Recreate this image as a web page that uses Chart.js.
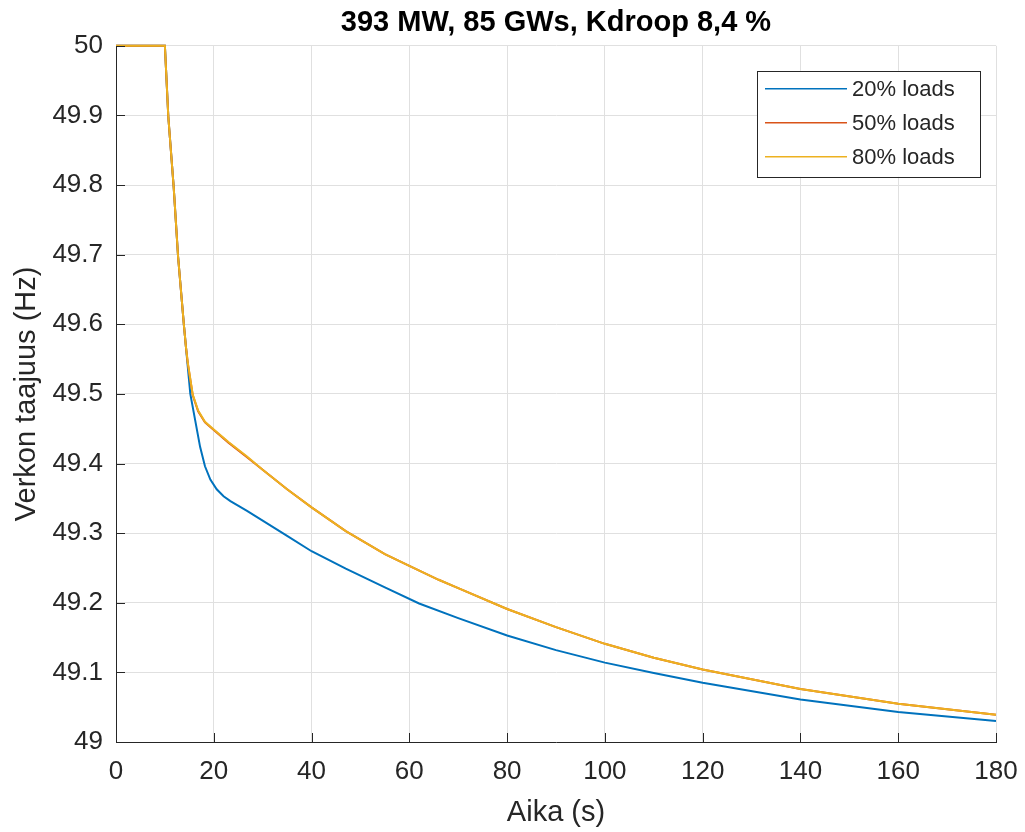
<!DOCTYPE html>
<html>
<head>
<meta charset="utf-8">
<title>393 MW, 85 GWs, Kdroop 8,4 %</title>
<script src="https://cdn.jsdelivr.net/npm/chart.js@4.4.1/dist/chart.umd.min.js"></script>
<style>
  html, body { margin: 0; padding: 0; background: #fff; overflow: hidden; }
  #wrap { width: 1025px; height: 832px; position: relative; }
</style>
</head>
<body>
<div id="wrap"><canvas id="chartFreq"></canvas></div>
<script>
// time axis (s) and grid frequency (Hz)
const time20 = [0, 10, 10.7, 11.8, 12.7, 13.9, 14.3, 15.2, 16.2, 17.2, 18.2, 19.3, 20.6, 22, 23.4, 26.8, 30, 35, 40, 47, 55, 62, 70, 80, 90, 100, 110, 120, 140, 160, 180];
const load20 = [50, 50, 49.898, 49.797, 49.697, 49.598, 49.568, 49.500, 49.462, 49.424, 49.396, 49.377, 49.363, 49.353, 49.346, 49.332, 49.318, 49.296, 49.274, 49.249, 49.222, 49.199, 49.178, 49.153, 49.132, 49.114, 49.099, 49.085, 49.061, 49.043, 49.030];

const time50 = [0, 10, 10.7, 11.8, 12.7, 13.9, 14.3, 14.7, 15.7, 16.8, 18.2, 20, 23, 26.8, 30, 35, 40, 47, 55, 60, 66, 70, 80, 90, 100, 110, 120, 140, 160, 180];
const load50 = [50, 50, 49.898, 49.797, 49.697, 49.598, 49.568, 49.543, 49.498, 49.475, 49.459, 49.448, 49.430, 49.409, 49.391, 49.363, 49.337, 49.303, 49.270, 49.253, 49.233, 49.221, 49.191, 49.165, 49.141, 49.121, 49.104, 49.076, 49.055, 49.039];

const time80 = [0, 10, 10.7, 11.8, 12.7, 13.9, 14.3, 14.7, 15.7, 16.8, 18.2, 20, 23, 26.8, 30, 35, 40, 47, 55, 60, 66, 70, 80, 90, 100, 110, 120, 140, 160, 180];
const load80 = [50, 50, 49.898, 49.797, 49.697, 49.598, 49.568, 49.544, 49.499, 49.476, 49.460, 49.449, 49.431, 49.410, 49.391, 49.363, 49.337, 49.303, 49.270, 49.253, 49.233, 49.221, 49.191, 49.165, 49.141, 49.121, 49.104, 49.076, 49.055, 49.039];

const seriesLabels = ["20% loads", "50% loads", "80% loads"];
const seriesColors = ["#0072BD", "#D95319", "#EDB120"];

const xTickValues = [0, 20, 40, 60, 80, 100, 120, 140, 160, 180];
const xTickLabels = ["0", "20", "40", "60", "80", "100", "120", "140", "160", "180"];
const yTickValues = [49, 49.1, 49.2, 49.3, 49.4, 49.5, 49.6, 49.7, 49.8, 49.9, 50];
const yTickLabels = ["49", "49.1", "49.2", "49.3", "49.4", "49.5", "49.6", "49.7", "49.8", "49.9", "50"];

const INK = "#262626";
const SANS = "'Liberation Sans', Arial, Helvetica, sans-serif";

const toPoints = (ts, vs) => ts.map((t, i) => ({ x: t, y: vs[i] }));

const line = (label, color, pts, order) => ({
  label, data: pts, order,
  borderColor: color, backgroundColor: color,
  borderWidth: 2, pointRadius: 0, tension: 0, fill: false, clip: 4
});

// MATLAB style inward tick marks
const innerTicks = {
  id: "innerTicks",
  afterDraw(chart) {
    const { ctx, chartArea: a, scales } = chart;
    ctx.save();
    ctx.strokeStyle = INK;
    ctx.lineWidth = 1;
    ctx.beginPath();
    xTickValues.forEach(v => {
      const px = Math.round(scales.x.getPixelForValue(v)) + 0.5;
      ctx.moveTo(px, a.bottom);
      ctx.lineTo(px, a.bottom - 9);
    });
    yTickValues.forEach(v => {
      const py = Math.round(scales.y.getPixelForValue(v)) + 0.5;
      ctx.moveTo(a.left, py);
      ctx.lineTo(a.left + 9, py);
    });
    ctx.stroke();
    ctx.restore();
  }
};

// boxed legend inside the upper right corner of the axes
const boxLegend = {
  id: "boxLegend",
  afterDraw(chart) {
    const { ctx, chartArea: a } = chart;
    const w = 223, h = 106;
    const x0 = a.right - 16 - w, y0 = a.top + 25;
    ctx.save();
    ctx.fillStyle = "#fff";
    ctx.fillRect(x0, y0, w, h);
    ctx.strokeStyle = INK;
    ctx.lineWidth = 1;
    ctx.strokeRect(Math.round(x0) + 0.5, Math.round(y0) + 0.5, w, h);
    ctx.font = "22px " + SANS;
    ctx.textBaseline = "middle";
    ctx.fillStyle = INK;
    chart.data.datasets.forEach((ds, i) => {
      const cy = y0 + 18 + i * 34;
      ctx.strokeStyle = ds.borderColor;
      ctx.lineWidth = 1.5;
      ctx.beginPath();
      ctx.moveTo(x0 + 8, cy);
      ctx.lineTo(x0 + 90, cy);
      ctx.stroke();
      ctx.fillText(ds.label, x0 + 95, cy + 1);
    });
    ctx.restore();
  }
};

new Chart(document.getElementById("chartFreq"), {
  type: "line",
  data: {
    datasets: [
      line(seriesLabels[0], seriesColors[0], toPoints(time20, load20), 2),
      line(seriesLabels[1], seriesColors[1], toPoints(time50, load50), 1),
      line(seriesLabels[2], seriesColors[2], toPoints(time80, load80), 0)
    ]
  },
  options: {
    responsive: true, maintainAspectRatio: false, animation: false,
    layout: { padding: { top: 1, right: 29, bottom: 0, left: 0 } },
    plugins: {
      legend: { display: false },
      tooltip: { enabled: false },
      title: {
        display: true, fullSize: false,
        text: "393 MW, 85 GWs, Kdroop 8,4 %",
        color: "#000",
        font: { family: SANS, size: 29, weight: "bold", lineHeight: 1.2 },
        padding: { top: 5, bottom: 5 }
      }
    },
    scales: {
      x: {
        type: "linear", min: 0, max: 180,
        afterBuildTicks: s => { s.ticks = xTickValues.map(v => ({ value: v })); },
        afterFit: s => { s.height = 90; s.paddingLeft = 0; s.paddingRight = 0; },
        ticks: {
          color: INK, padding: 14, maxRotation: 0, autoSkip: false,
          font: { family: SANS, size: 26 },
          callback: (v, i) => xTickLabels[i]
        },
        grid: { color: "#e0e0e0", lineWidth: 1, drawTicks: false },
        border: { display: true, color: INK, width: 1 },
        title: {
          display: true, text: "Aika (s)", color: INK,
          font: { family: SANS, size: 29, lineHeight: 1.2 },
          padding: { top: 0, bottom: 2 }
        }
      },
      y: {
        type: "linear", min: 49, max: 50,
        afterBuildTicks: s => { s.ticks = yTickValues.map(v => ({ value: v })); },
        afterFit: s => { s.width = 116; },
        ticks: {
          color: INK, padding: 13,
          font: { family: SANS, size: 26 },
          callback: (v, i) => yTickLabels[i]
        },
        grid: { color: "#e0e0e0", lineWidth: 1, drawTicks: false },
        border: { display: true, color: INK, width: 1 },
        title: {
          display: true, text: "Verkon taajuus (Hz)", color: INK,
          font: { family: SANS, size: 29, lineHeight: 1.2 },
          padding: { top: 10, bottom: 0 }
        }
      }
    }
  },
  plugins: [innerTicks, boxLegend]
});
</script>
</body>
</html>
